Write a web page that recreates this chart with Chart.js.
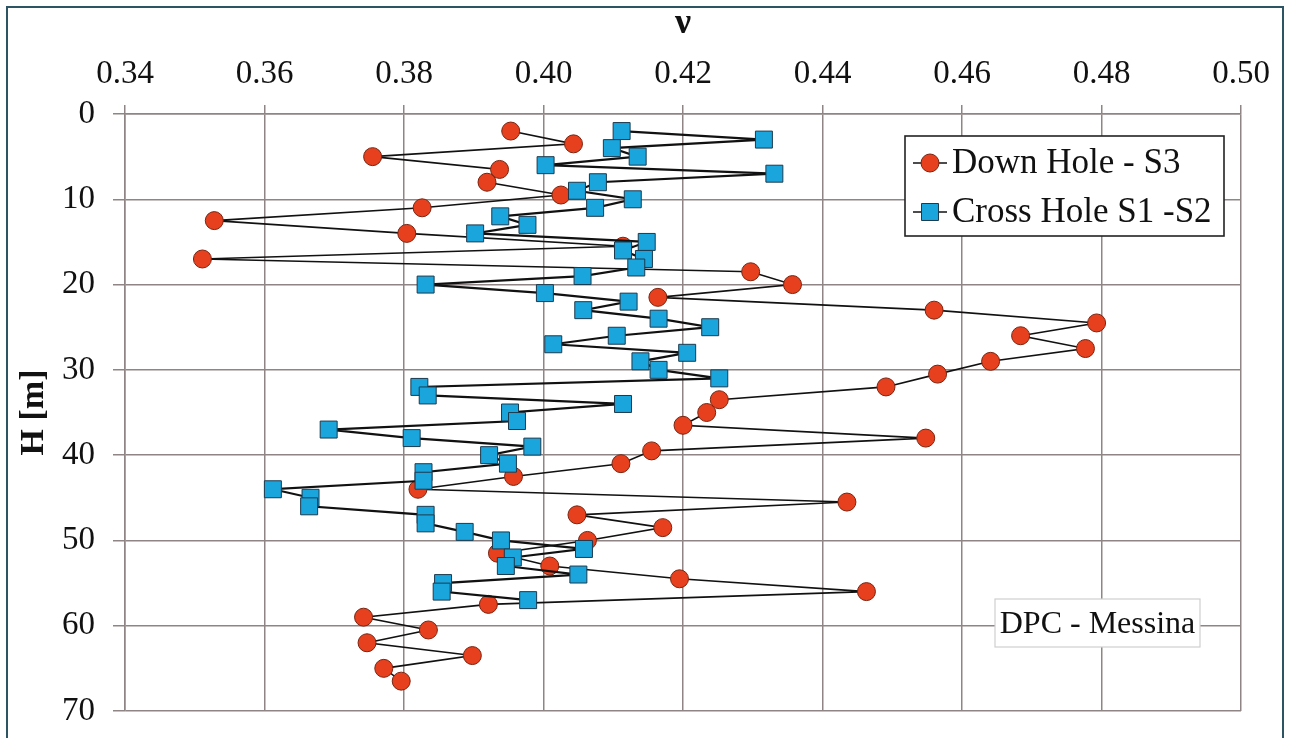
<!DOCTYPE html>
<html>
<head>
<meta charset="utf-8">
<script src="https://cdn.jsdelivr.net/npm/chart.js@4.4.1/dist/chart.umd.min.js"></script>
<style>
  html, body { margin: 0; padding: 0; background: #ffffff; overflow: hidden; }
  #wrap { position: relative; width: 1290px; height: 738px; }
  #frame { position: absolute; left: 6px; top: 6px; width: 1278px; height: 800px;
           border: 2px solid #2c5464; box-sizing: border-box; pointer-events: none; }
  canvas { position: absolute; left: 0; top: 0; }
</style>
</head>
<body>
<div id="wrap">
  <div id="frame"></div>
  <canvas id="c" width="1290" height="738"></canvas>
</div>
<script>
// ---- Data ----
const downHoleDepth = [2, 3.5, 5, 6.5, 8, 9.5, 11, 12.5, 14, 15.5, 17, 18.5, 20, 21.5, 23, 24.5, 26, 27.5, 29, 30.5,
  32, 33.5, 35, 36.5, 38, 39.5, 41, 42.5, 44, 45.5, 47, 48.5, 50, 51.5, 53, 54.5, 56, 57.5, 59, 60.5, 62, 63.5, 65, 66.5];
const downHoleNu = [0.3953, 0.4043, 0.3755, 0.3937, 0.3919, 0.4025, 0.3826, 0.3528, 0.3804, 0.4114, 0.3511, 0.4297,
  0.4357, 0.4164, 0.4560, 0.4793, 0.4684, 0.4777, 0.4641, 0.4565, 0.4491, 0.4252, 0.4234, 0.4200, 0.4548, 0.4155,
  0.4111, 0.3957, 0.3820, 0.4435, 0.4048, 0.4171, 0.4063, 0.3934, 0.4009, 0.4195, 0.4463, 0.3921, 0.3742, 0.3835,
  0.3747, 0.3898, 0.3771, 0.3796];

const crossHoleDepth = [2, 3, 4, 5, 6, 7, 8, 9, 10, 11, 12, 13, 14, 15, 16, 17, 18, 19, 20, 21, 22, 23, 24, 25, 26, 27,
  28, 29, 30, 31, 32, 33, 34, 35, 36, 37, 38, 39, 40, 41, 42, 43, 44, 45, 46, 47, 48, 49, 50, 51, 52, 53, 54, 55, 56, 57];
const crossHoleNu = [0.4112, 0.4316, 0.4098, 0.4135, 0.4003, 0.4331, 0.4078, 0.4048, 0.4128, 0.4074, 0.3938, 0.3977,
  0.3902, 0.4148, 0.4114, 0.4144, 0.4133, 0.4056, 0.3831, 0.4002, 0.4122, 0.4057, 0.4165, 0.4239, 0.4105, 0.4014,
  0.4206, 0.4139, 0.4165, 0.4252, 0.3822, 0.3834, 0.4114, 0.3952, 0.3962, 0.3692, 0.3811, 0.3984, 0.3922, 0.3949,
  0.3828, 0.3828, 0.3612, 0.3666, 0.3664, 0.3831, 0.3831, 0.3887, 0.3939, 0.4058, 0.3956, 0.3946, 0.4050, 0.3856,
  0.3854, 0.3978];

const seriesNames = ['Down Hole - S3', 'Cross Hole S1 -S2'];
const xTitle = 'ν';
const yTitle = 'H [m]';
const annotationText = 'DPC - Messina';
const xMin = 0.34, xMax = 0.50, xStep = 0.02;
const yMin = 0, yMax = 70, yStep = 10;

// ---- Styling ----
const SERIF = '"Liberation Serif", "Times New Roman", serif';
const GRID = '#8f8585';
const RED = '#e6401e', RED_EDGE = '#7a2410';
const BLUE = '#1aa5dc', BLUE_EDGE = '#1d3a4e';

const toPoints = (xs, ys) => xs.map((v, i) => ({ x: v, y: ys[i] }));

const insideLegend = {
  id: 'insideLegend',
  afterDatasetsDraw(chart) {
    const ctx = chart.ctx;
    const ca = chart.chartArea;
    const bx = ca.left + 780, by = ca.top + 22, bw = 319, bh = 100;
    ctx.save();
    ctx.fillStyle = '#ffffff';
    ctx.fillRect(bx, by, bw, bh);
    ctx.strokeStyle = '#222';
    ctx.lineWidth = 1.6;
    ctx.strokeRect(bx, by, bw, bh);
    const rows = [by + 27, by + 76];
    [0, 1].forEach((di, r) => {
      const ds = chart.data.datasets[di];
      const cy = rows[r];
      ctx.strokeStyle = '#111';
      ctx.lineWidth = 1.6;
      ctx.beginPath();
      ctx.moveTo(bx + 8, cy);
      ctx.lineTo(bx + 42, cy);
      ctx.stroke();
      ctx.fillStyle = ds.pointBackgroundColor;
      ctx.strokeStyle = ds.pointBorderColor;
      ctx.lineWidth = 1;
      ctx.beginPath();
      if (ds.pointStyle === 'circle') {
        ctx.arc(bx + 25, cy, ds.pointRadius, 0, Math.PI * 2);
      } else {
        const s = Math.SQRT1_2 * ds.pointRadius;
        ctx.rect(bx + 25 - s, cy - s, 2 * s, 2 * s);
      }
      ctx.fill();
      ctx.stroke();
      ctx.fillStyle = '#111';
      ctx.font = '35px ' + SERIF;
      ctx.textBaseline = 'middle';
      ctx.textAlign = 'left';
      ctx.fillText(ds.label, bx + 47, cy + 1);
    });
    // annotation box
    const ax = ca.left + 870, ay = ca.top + 485, aw = 205, ah = 48;
    ctx.fillStyle = '#ffffff';
    ctx.fillRect(ax, ay, aw, ah);
    ctx.strokeStyle = '#cfcfcf';
    ctx.lineWidth = 1.2;
    ctx.strokeRect(ax, ay, aw, ah);
    ctx.fillStyle = '#111';
    ctx.font = '32px ' + SERIF;
    ctx.textAlign = 'center';
    ctx.textBaseline = 'middle';
    ctx.fillText(annotationText, ax + aw / 2, ay + ah / 2 + 2);
    ctx.restore();
  }
};

new Chart(document.getElementById('c'), {
  type: 'scatter',
  data: {
    datasets: [
      {
        label: seriesNames[0],
        data: toPoints(downHoleNu, downHoleDepth),
        showLine: true,
        borderColor: '#111',
        borderWidth: 1.6,
        pointStyle: 'circle',
        pointRadius: 9,
        pointHoverRadius: 9,
        pointBackgroundColor: RED,
        pointBorderColor: RED_EDGE,
        pointBorderWidth: 1,
        order: 2
      },
      {
        label: seriesNames[1],
        data: toPoints(crossHoleNu, crossHoleDepth),
        showLine: true,
        borderColor: '#111',
        borderWidth: 2.2,
        pointStyle: 'rect',
        pointRadius: 12,
        pointHoverRadius: 12,
        pointBackgroundColor: BLUE,
        pointBorderColor: BLUE_EDGE,
        pointBorderWidth: 1,
        order: 1
      }
    ]
  },
  options: {
    responsive: false,
    animation: false,
    layout: { padding: { left: 0, top: 0, right: 49, bottom: 27 } },
    plugins: {
      legend: { display: false },
      tooltip: { enabled: false }
    },
    scales: {
      x: {
        type: 'linear',
        position: 'top',
        min: xMin, max: xMax,
        afterFit(scale) { scale.height = 114; scale.paddingLeft = 0; scale.paddingRight = 0; },
        ticks: {
          stepSize: xStep,
          padding: 11,
          color: '#111',
          font: { family: SERIF, size: 33 },
          callback: (v) => Number(v).toFixed(2)
        },
        grid: { color: GRID, lineWidth: 1.5, tickLength: 9, tickColor: GRID },
        border: { color: GRID, width: 1.5 },
        title: {
          display: true, text: xTitle, color: '#111',
          font: { family: SERIF, size: 36, weight: 'bold' },
          padding: { top: 2, bottom: 0 }
        }
      },
      y: {
        type: 'linear',
        reverse: true,
        min: yMin, max: yMax,
        afterFit(scale) { scale.width = 125; scale.paddingTop = 0; scale.paddingBottom = 0; },
        ticks: {
          stepSize: yStep,
          padding: 18,
          color: '#111',
          font: { family: SERIF, size: 33 }
        },
        grid: { color: GRID, lineWidth: 1.5, tickLength: 12, tickColor: GRID },
        border: { color: GRID, width: 1.5 },
        title: {
          display: true, text: yTitle, color: '#111',
          font: { family: SERIF, size: 34, weight: 'bold' },
          padding: { top: 14, bottom: 0 }
        }
      }
    }
  },
  plugins: [insideLegend]
});
</script>
</body>
</html>
